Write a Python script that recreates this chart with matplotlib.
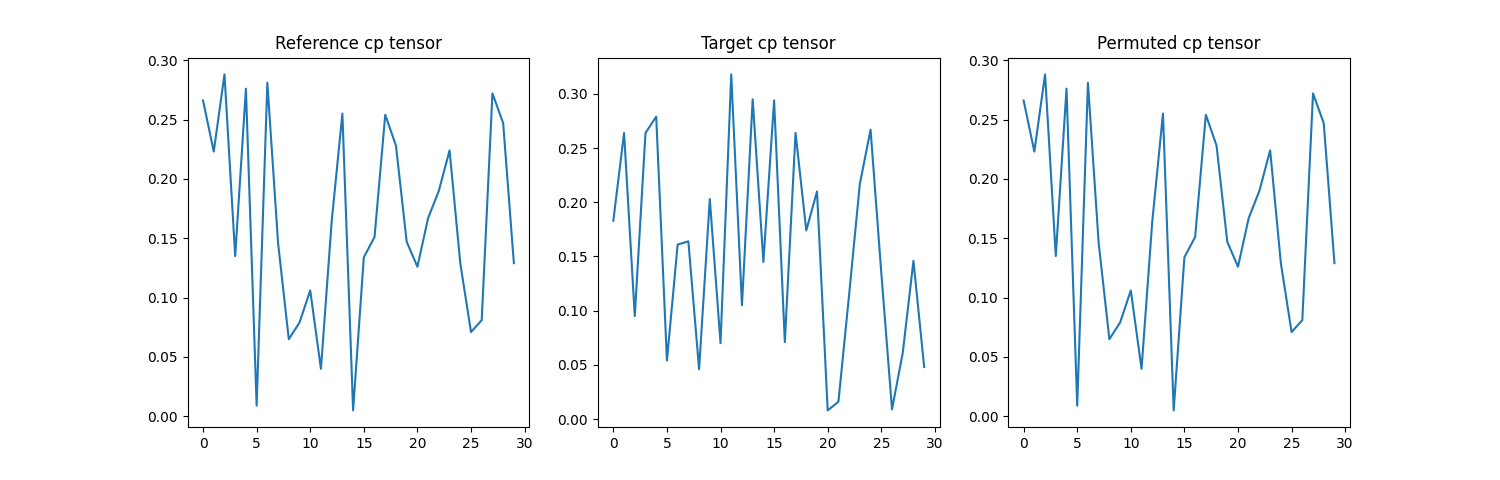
import matplotlib
matplotlib.use("Agg")
import matplotlib.pyplot as plt

# factor values
reference = [0.266, 0.223, 0.288, 0.135, 0.276, 0.009, 0.281, 0.146, 0.065, 0.079,
             0.106, 0.040, 0.164, 0.255, 0.005, 0.134, 0.151, 0.254, 0.228, 0.147,
             0.126, 0.167, 0.190, 0.224, 0.129, 0.071, 0.081, 0.272, 0.247, 0.129]
target = [0.183, 0.264, 0.095, 0.264, 0.279, 0.054, 0.161, 0.164, 0.046, 0.203,
          0.070, 0.318, 0.105, 0.295, 0.145, 0.294, 0.071, 0.264, 0.174, 0.210,
          0.008, 0.016, 0.115, 0.217, 0.267, 0.135, 0.009, 0.061, 0.146, 0.048]
# permuted cp tensor matches the reference one
permuted = list(reference)

titles = ["Reference cp tensor", "Target cp tensor", "Permuted cp tensor"]

fig, axes = plt.subplots(1, 3, figsize=(15, 4.8), dpi=100)
for ax, values, title in zip(axes, [reference, target, permuted], titles):
    ax.plot(values)
    ax.set_title(title)

plt.savefig("out.png")
